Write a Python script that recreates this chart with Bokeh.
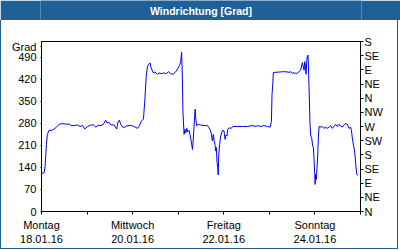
from bokeh.plotting import figure
from bokeh.layouts import column
from bokeh.models import LinearAxis, FixedTicker, Range1d
from bokeh.core.properties import value
from bokeh.embed import file_html
from bokeh.resources import INLINE

# data: hours since 18.01.16 00:00 and wind direction in degrees
hours = [0, 1.4, 1.9, 2.6, 3.1, 4.0, 5.8, 7.5, 9.3, 11.0, 13.7, 14.5, 15.4, 17.2, 18.9,
         20.3, 21.6, 22.8, 24.2, 26.0, 27.3, 28.6, 29.8, 31.2, 32.6, 33.8, 34.7, 35.6,
         36.5, 38.2, 39.6, 40.3, 41.0, 41.7, 43.1, 44.4, 45.6, 47.4, 48.8, 50.5, 51.6,
         52.6, 53.7, 54.4, 55.1, 55.8, 56.5, 57.2, 57.7, 58.8, 59.8, 61.0, 61.9, 63.3,
         64.5, 65.8, 66.8, 68.0, 69.3, 70.7, 71.7, 72.8, 73.3, 73.8, 74.2, 74.5, 75.1,
         75.6, 76.0, 76.5, 77.0, 77.7, 78.2, 78.8, 79.5, 79.8, 80.3, 80.9, 81.2, 81.7,
         82.6, 83.8, 85.1, 86.5, 87.4, 88.2, 89.1, 89.6, 90.0, 90.5, 91.0, 91.4, 91.7,
         92.1, 92.4, 92.8, 93.1, 93.3, 93.8, 94.4, 95.3, 96.1, 96.7, 97.2, 97.7, 98.1,
         98.8, 99.8, 100.9, 103.1, 105.8, 108.4, 111.0, 113.0, 113.7, 115.5, 117.2,
         119.0, 120.4, 121.1, 121.4, 121.8, 122.1, 123.4, 125.1, 126.9, 128.6, 130.4,
         131.3, 132.1, 133.0, 133.9, 134.8, 135.6, 136.5, 137.4, 137.9, 138.3, 138.6,
         139.0, 139.3, 139.7, 140.0, 140.4, 140.7, 141.1, 141.4, 141.8, 142.3, 142.8,
         143.2, 143.5, 143.9, 144.1, 144.4, 144.8, 145.1, 145.5, 145.8, 146.2, 147.0,
         147.9, 148.8, 149.7, 150.5, 151.4, 152.3, 153.2, 154.0, 154.9, 155.8, 156.7,
         157.6, 158.4, 159.3, 160.2, 161.1, 162.0, 162.8, 163.2, 163.7, 164.2, 164.9,
         165.5, 166.0, 166.3, 166.7]
degrees = [121, 123, 144, 213, 245, 258, 258, 266, 277, 279, 277, 279, 273, 273, 275,
           270, 273, 262, 270, 275, 275, 268, 274, 273, 277, 290, 281, 283,
           275, 275, 262, 285, 290, 277, 266, 270, 273, 273, 270, 264, 273,
           287, 294, 351, 425, 462, 468, 472, 457, 441, 443, 436, 440, 438,
           440, 438, 444, 438, 436, 444, 453, 466, 476, 506, 425, 314, 245,
           261, 250, 264, 253, 258, 245, 224, 197, 218, 266, 325, 298, 272,
           277, 275, 273, 273, 273, 266, 256, 240, 224, 245, 222, 213, 192,
           203, 160, 139, 116, 176, 213, 240, 258, 256, 229, 243, 240, 261,
           266, 264, 270, 270, 270, 270, 273, 270, 273, 270, 273,
           270, 268, 287, 372, 404, 442, 442, 443, 444, 444, 442,
           444, 439, 441, 438, 440, 444, 449, 473, 459, 449, 476,
           462, 436, 478, 494, 497, 436, 351, 277, 240, 234, 208,
           203, 171, 118, 86, 118, 102, 139, 181, 234, 270, 268,
           270, 264, 268, 264, 268, 272, 264, 270, 277, 270, 277,
           271, 268, 275, 279, 277, 264, 268, 258, 234, 213, 192,
           150, 120, 116, 116]

title_text = "Windrichtung [Grad]"
day_ticks = [0, 48, 96, 144]
day_names = ["Montag", "Mittwoch", "Freitag", "Sonntag"]
day_dates = ["18.01.16", "20.01.16", "22.01.16", "24.01.16"]
minor_day_ticks = [24, 72, 120, 168]
left_ticks = [0, 70, 140, 210, 280, 350, 420, 490]
unit_label = "Grad"
unit_label_pos = 523
compass_ticks = [0, 45, 90, 135, 180, 225, 270, 315, 360, 405, 450, 495, 540]
compass_labels = ["N", "NE", "E", "SE", "S", "SW", "W", "NW", "N", "NE", "E", "SE", "S"]

BLUE = "#1F6096"
FONT = "Liberation Sans"
FS = "11px"

# title bar
bar = figure(width=400, height=20, output_backend="svg", toolbar_location=None,
             x_range=Range1d(0, 1), y_range=Range1d(0, 1), min_border=0,
             x_axis_type=None, y_axis_type=None)
bar.background_fill_color = BLUE
bar.border_fill_color = BLUE
bar.outline_line_color = None
bar.grid.visible = False
bar.text(x=[0.5], y=[0.5], text=[title_text], text_align="center",
         text_baseline="middle", text_color="white", text_font=value(FONT),
         text_font_style="bold", text_font_size="10.5px")

p = figure(width=398, height=229, output_backend="svg", toolbar_location=None,
           x_range=Range1d(0, 168), y_range=Range1d(0, 540),
           min_border_left=40, min_border_right=39, min_border_top=21,
           min_border_bottom=38, x_axis_type=None, y_axis_type=None)
p.styles = {"border-left": "1px solid " + BLUE, "border-right": "1px solid " + BLUE,
            "border-bottom": "1px solid " + BLUE}
p.background_fill_color = "white"
p.border_fill_color = "white"
p.outline_line_color = "black"
p.outline_line_width = 1

xaxis = LinearAxis(ticker=FixedTicker(ticks=day_ticks, minor_ticks=minor_day_ticks),
                   major_label_overrides={t: n + "\n" + d for t, n, d in zip(day_ticks, day_names, day_dates)})
xaxis.major_tick_in = 0
xaxis.major_tick_out = 3
xaxis.minor_tick_in = 0
xaxis.minor_tick_out = 3
xaxis.major_label_standoff = 4
p.add_layout(xaxis, "below")

yaxis = LinearAxis(ticker=FixedTicker(ticks=left_ticks + [unit_label_pos], minor_ticks=[]),
                   major_label_overrides={unit_label_pos: unit_label})
yaxis.major_tick_in = 0
yaxis.major_tick_out = 1
yaxis.major_label_standoff = 4
p.add_layout(yaxis, "left")

raxis = LinearAxis(ticker=FixedTicker(ticks=compass_ticks, minor_ticks=[]),
                   major_label_overrides={t: l for t, l in zip(compass_ticks, compass_labels)})
raxis.major_tick_in = 0
raxis.major_tick_out = 3
raxis.major_label_standoff = 1
p.add_layout(raxis, "right")

for ax in (xaxis, yaxis, raxis):
    ax.axis_line_color = "black"
    ax.major_tick_line_color = "black"
    ax.minor_tick_line_color = "black"
    ax.major_label_text_font = FONT
    ax.major_label_text_font_size = FS
    ax.major_label_text_color = "black"

p.xgrid.ticker = FixedTicker(ticks=day_ticks[1:])
p.ygrid.ticker = FixedTicker(ticks=left_ticks[1:])
for g in (p.xgrid, p.ygrid):
    g.grid_line_color = "black"
    g.grid_line_dash = "4 3"
    g.grid_line_width = 1

p.line(hours, degrees, line_color="#0000EE", line_width=1)

layout = column(bar, p, spacing=0)
open("out.html", "w").write(file_html(layout, INLINE))
